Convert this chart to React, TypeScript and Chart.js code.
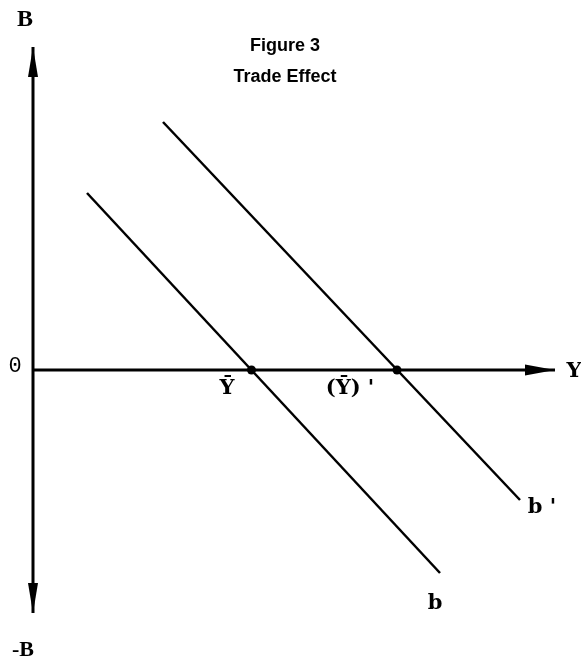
import React, { useEffect, useRef } from "react";
import { Chart, registerables } from "chart.js";

Chart.register(...registerables);

// Axis extents (economic units: Y income on horizontal, B balance on vertical)
const horizontalAxis = [
  { x: 0, y: 0 },
  { x: 10.44, y: 0 },
];
const verticalAxis = [
  { x: 0, y: 6.46 },
  { x: 0, y: -4.86 },
];
// Schedule b and shifted schedule b'
const lineB = [
  { x: 1.08, y: 3.54 },
  { x: 8.14, y: -4.06 },
];
const lineBPrime = [
  { x: 2.6, y: 4.96 },
  { x: 9.74, y: -2.6 },
];
// Equilibria Ȳ and (Ȳ)'
const equilibria = [
  { x: 4.37, y: 0 },
  { x: 7.28, y: 0 },
];

const titleLines = ["Figure 3", "Trade Effect"];

const SERIF = "'DejaVu Serif', 'Liberation Serif', serif";
type Label = { text: string; x: number; y: number; font: string };
const axisLabels: Label[] = [
  { text: "B", x: -0.16, y: 7.0, font: `bold 24px 'Liberation Serif', 'DejaVu Serif', serif` },
  { text: "-B", x: -0.2, y: -5.6, font: `bold 22px 'Liberation Serif', 'DejaVu Serif', serif` },
  { text: "0", x: -0.36, y: 0.08, font: "22px 'Liberation Mono', 'DejaVu Sans Mono', monospace" },
  { text: "Y", x: 10.82, y: -0.04, font: `bold 21px ${SERIF}` },
  { text: "\u0232", x: 3.88, y: -0.38, font: `bold 21px ${SERIF}` },
  { text: "(\u0232) '", x: 6.34, y: -0.38, font: `bold 21px ${SERIF}` },
  { text: "b '", x: 10.18, y: -2.76, font: `bold 21px ${SERIF}` },
  { text: "b", x: 8.04, y: -4.68, font: `bold 21px ${SERIF}` },
];

function arrowHead(ctx: CanvasRenderingContext2D, fx: number, fy: number, tx: number, ty: number, len: number, half: number) {
  const a = Math.atan2(ty - fy, tx - fx);
  const bx = tx - len * Math.cos(a);
  const by = ty - len * Math.sin(a);
  ctx.beginPath();
  ctx.moveTo(tx, ty);
  ctx.lineTo(bx + half * Math.sin(a), by - half * Math.cos(a));
  ctx.lineTo(bx - half * Math.sin(a), by + half * Math.cos(a));
  ctx.closePath();
  ctx.fill();
}

const decorPlugin = {
  id: "decor",
  afterDatasetsDraw(chart: any) {
    const ctx: CanvasRenderingContext2D = chart.ctx;
    const xs = chart.scales.x;
    const ys = chart.scales.y;
    ctx.save();
    ctx.fillStyle = "#000";
    // arrowheads
    const h = chart.getDatasetMeta(0).data;
    arrowHead(ctx, h[0].x, h[0].y, h[1].x, h[1].y, 30, 5.5);
    const v = chart.getDatasetMeta(1).data;
    arrowHead(ctx, v[1].x, v[1].y, v[0].x, v[0].y, 30, 5);
    arrowHead(ctx, v[0].x, v[0].y, v[1].x, v[1].y, 30, 5);
    // labels
    ctx.textAlign = "center";
    ctx.textBaseline = "middle";
    for (const l of axisLabels) {
      ctx.font = l.font;
      ctx.fillText(l.text, xs.getPixelForValue(l.x), ys.getPixelForValue(l.y));
    }
    // title
    ctx.font = "bold 18px 'Liberation Sans', Arial, sans-serif";
    ctx.fillText(titleLines[0], 285, 46);
    ctx.fillText(titleLines[1], 285, 77);
    ctx.restore();
  },
};

export default function App() {
  const ref = useRef<HTMLCanvasElement>(null);
  useEffect(() => {
    document.body.style.margin = "0";
    const c = ref.current!;
    const chart = new Chart(c, {
      type: "scatter",
      data: {
        datasets: [
          { data: horizontalAxis, showLine: true, borderColor: "#000", borderWidth: 3, pointRadius: 0 },
          { data: verticalAxis, showLine: true, borderColor: "#000", borderWidth: 3, pointRadius: 0 },
          { data: lineB, showLine: true, borderColor: "#000", borderWidth: 2.5, pointRadius: 0 },
          { data: lineBPrime, showLine: true, borderColor: "#000", borderWidth: 2.5, pointRadius: 0 },
          { data: equilibria, showLine: false, pointRadius: 4.5, pointBackgroundColor: "#000", pointBorderWidth: 0 },
        ],
      },
      options: {
        responsive: false,
        animation: false,
        layout: { padding: 0, autoPadding: false },
        plugins: { legend: { display: false }, tooltip: { enabled: false }, title: { display: false } },
        scales: {
          x: { type: "linear", min: -0.66, max: 10.96, display: false },
          y: { type: "linear", min: -5.82, max: 7.4, display: false },
        },
      },
      plugins: [decorPlugin],
    });
    return () => chart.destroy();
  }, []);
  return (
    <div style={{ width: 581, height: 661, background: "#fff" }}>
      <canvas ref={ref} width={581} height={661} />
    </div>
  );
}
